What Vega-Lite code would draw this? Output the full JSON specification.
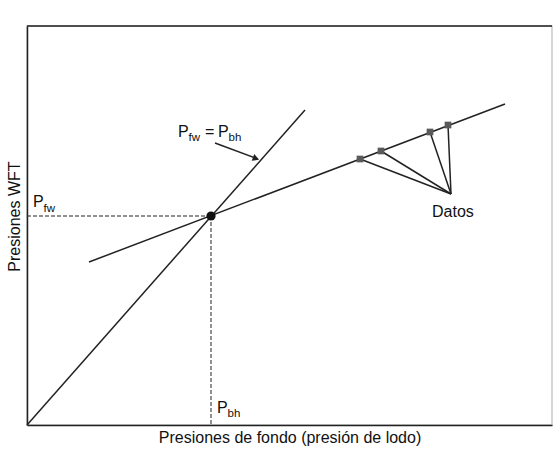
{
  "$schema": "https://vega.github.io/schema/vega-lite/v6.json",
  "width": 525,
  "height": 399,
  "autosize": "none",
  "padding": {"left": 27, "top": 26, "right": 8, "bottom": 27},
  "background": "white",
  "datasets": {
    "rectas": [
      {"serie": "igual", "x": 0, "y": 0},
      {"serie": "igual", "x": 278, "y": 315},
      {"serie": "ajuste", "x": 62, "y": 163},
      {"serie": "ajuste", "x": 478, "y": 321},
      {"serie": "d1", "x": 333, "y": 266},
      {"serie": "d1", "x": 424, "y": 231},
      {"serie": "d2", "x": 354, "y": 274},
      {"serie": "d2", "x": 424, "y": 231},
      {"serie": "d3", "x": 403, "y": 293},
      {"serie": "d3", "x": 424, "y": 231},
      {"serie": "d4", "x": 421, "y": 300},
      {"serie": "d4", "x": 424, "y": 231},
      {"serie": "flecha", "x": 188, "y": 282},
      {"serie": "flecha", "x": 231, "y": 266}
    ],
    "guias": [
      {"serie": "h", "x": 0, "y": 209},
      {"serie": "h", "x": 184, "y": 209},
      {"serie": "v", "x": 184, "y": 209},
      {"serie": "v", "x": 184, "y": 0}
    ],
    "datos": [
      {"x": 333, "y": 266},
      {"x": 354, "y": 274},
      {"x": 403, "y": 293},
      {"x": 421, "y": 300}
    ],
    "punto": [{"x": 184, "y": 209}],
    "punta": [{"x": 229, "y": 266.5}],
    "textos": [
      {"texto": "P", "tipo": "normal", "x": 6, "y": 218},
      {"texto": "fw", "tipo": "sub", "x": 16.5, "y": 213},
      {"texto": "P", "tipo": "normal", "x": 190, "y": 12},
      {"texto": "bh", "tipo": "sub", "x": 200.5, "y": 8},
      {"texto": "P", "tipo": "normal", "x": 151, "y": 288},
      {"texto": "fw", "tipo": "sub", "x": 161.5, "y": 284},
      {"texto": "=", "tipo": "normal", "x": 178, "y": 288},
      {"texto": "P", "tipo": "normal", "x": 191, "y": 288},
      {"texto": "bh", "tipo": "sub", "x": 201.5, "y": 284},
      {"texto": "Datos", "tipo": "normal", "x": 405, "y": 208}
    ],
    "borde": [{"y": 399}]
  },
  "layer": [
    {
      "data": {"name": "rectas"},
      "mark": {"type": "line", "color": "#222222", "strokeWidth": 1.5},
      "encoding": {
        "x": {
          "field": "x",
          "type": "quantitative",
          "scale": {"domain": [0, 525], "nice": false},
          "axis": {
            "title": "Presiones de fondo (presión de lodo)",
            "labels": false,
            "ticks": false,
            "grid": false,
            "domainColor": "#222222",
            "domainWidth": 1.5,
            "titleFont": "Liberation Sans",
            "titleFontSize": 16,
            "titleFontWeight": "normal",
            "titleColor": "#111111",
            "titlePadding": 4
          }
        },
        "y": {
          "field": "y",
          "type": "quantitative",
          "scale": {"domain": [0, 399], "nice": false},
          "axis": {
            "title": "Presiones WFT",
            "labels": false,
            "ticks": false,
            "grid": false,
            "domainColor": "#222222",
            "domainWidth": 1.5,
            "titleFont": "Liberation Sans",
            "titleFontSize": 16,
            "titleFontWeight": "normal",
            "titleColor": "#111111",
            "titlePadding": 5,
            "titleY": 190
          }
        },
        "detail": {"field": "serie"}
      }
    },
    {
      "data": {"name": "guias"},
      "mark": {"type": "line", "color": "#222222", "strokeWidth": 1, "strokeDash": [4, 2]},
      "encoding": {
        "x": {"field": "x", "type": "quantitative"},
        "y": {"field": "y", "type": "quantitative"},
        "detail": {"field": "serie"}
      }
    },
    {
      "data": {"name": "borde"},
      "mark": {"type": "rule", "color": "#222222", "strokeWidth": 1.5},
      "encoding": {"y": {"field": "y", "type": "quantitative"}}
    },
    {
      "data": {"name": "datos"},
      "mark": {"type": "point", "shape": "square", "filled": true, "color": "#5a5a5a", "size": 45, "opacity": 1},
      "encoding": {
        "x": {"field": "x", "type": "quantitative"},
        "y": {"field": "y", "type": "quantitative"}
      }
    },
    {
      "data": {"name": "punto"},
      "mark": {"type": "point", "shape": "circle", "filled": true, "color": "#111111", "size": 85, "opacity": 1},
      "encoding": {
        "x": {"field": "x", "type": "quantitative"},
        "y": {"field": "y", "type": "quantitative"}
      }
    },
    {
      "data": {"name": "punta"},
      "mark": {"type": "point", "shape": "triangle-right", "filled": true, "color": "#222222", "size": 55, "angle": 21, "opacity": 1},
      "encoding": {
        "x": {"field": "x", "type": "quantitative"},
        "y": {"field": "y", "type": "quantitative"}
      }
    },
    {
      "data": {"name": "textos"},
      "mark": {"type": "text", "align": "left", "baseline": "alphabetic", "font": "Liberation Sans", "color": "#111111"},
      "encoding": {
        "x": {"field": "x", "type": "quantitative"},
        "y": {"field": "y", "type": "quantitative"},
        "text": {"field": "texto"},
        "size": {
          "field": "tipo",
          "type": "nominal",
          "scale": {"domain": ["normal", "sub"], "range": [16, 11.5]},
          "legend": null
        }
      }
    }
  ],
  "config": {
    "view": {"stroke": "#c8c8c8", "strokeWidth": 1.5}
  }
}
